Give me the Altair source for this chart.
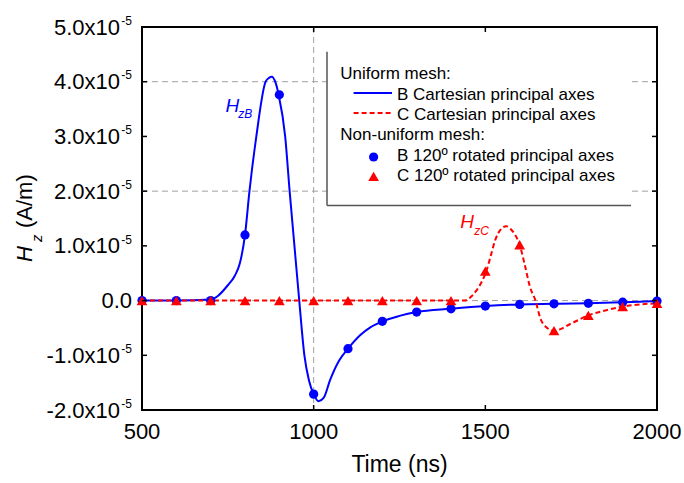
import altair as alt
import pandas as pd

# ---------------- data (H_z values in units of 1e-5 A/m) ----------------
# Uniform mesh, B Cartesian principal axes (solid blue curve)
b_line_t = [500, 600, 700, 720, 750, 770, 785, 800, 813, 833, 860, 870, 878, 888, 898,
            917, 930, 944, 958, 973, 986, 1000, 1014, 1029, 1048, 1073, 1100, 1136, 1165,
            1200, 1250, 1300, 1400, 1500, 1600, 1700, 1800, 1900, 2000]
b_line_v = [0.0, 0.0, 0.02, 0.08, 0.28, 0.45, 0.68, 1.2, 2.0, 3.0, 4.0, 4.07, 4.09, 4.0, 3.76,
            3.0, 2.0, 1.0, 0.0, -1.0, -1.45, -1.71, -1.84, -1.78, -1.45, -1.11, -0.88, -0.63, -0.49,
            -0.38, -0.28, -0.21, -0.15, -0.10, -0.07, -0.06, -0.05, -0.03, -0.01]

# Uniform mesh, C Cartesian principal axes (dashed red curve)
c_line_t = [500, 1000, 1400, 1440, 1460, 1476, 1490, 1503, 1515, 1529, 1545, 1561, 1575, 1587,
            1600, 1615, 1630, 1646, 1660, 1680, 1700, 1750, 1800, 1850, 1900, 2000]
c_line_v = [0.0, 0.0, 0.0, 0.0, 0.08, 0.2, 0.35, 0.54, 0.8, 1.11, 1.3, 1.36, 1.3, 1.2,
            1.02, 0.65, 0.25, 0.0, -0.32, -0.5, -0.55, -0.42, -0.27, -0.18, -0.11, -0.05]

# Non-uniform mesh, 120 deg rotated principal axes (markers)
pt_t = [500, 600, 700, 800, 900, 1000, 1100, 1200, 1300, 1400, 1500, 1600, 1700, 1800, 1900, 2000]
b_pt_v = [0.0, 0.0, 0.0, 1.2, 3.76, -1.71, -0.88, -0.38, -0.21, -0.15, -0.10, -0.07, -0.06, -0.05, -0.03, -0.01]
c_pt_v = [0.0, 0.0, 0.0, 0.0, 0.0, 0.0, 0.0, 0.0, 0.0, 0.0, 0.54, 1.02, -0.55, -0.27, -0.11, -0.05]

# axes
x_ticks = [500, 1000, 1500, 2000]
y_ticks = [5, 4, 3, 2, 1, 0, -1, -2]
y_tick_main = ["5.0x10", "4.0x10", "3.0x10", "2.0x10", "1.0x10", "0.0", "-1.0x10", "-2.0x10"]
y_tick_sup = ["-5", "-5", "-5", "-5", "-5", "", "-5", "-5"]
grid_y = [0, 2, 4]
grid_x = [1000]

# annotations
ann_text_main = ["H", "H"]
ann_text_sub = ["zB", "zC"]
ann_colors = ["#0000FF", "#FF0000"]
ann_t = [743, 1427]
ann_v = [3.45, 1.33]
ann_sub_t = [780, 1468]
ann_sub_v = [3.33, 1.20]

legend_headers = ["Uniform mesh:", "Non-uniform mesh:"]
legend_entries = ["B Cartesian principal axes", "C Cartesian principal axes",
                  "B 120\u00ba rotated principal axes", "C 120\u00ba rotated principal axes"]

# ---------------- chart ----------------
F = "Liberation Sans"
W, H = 515, 383
BLUE, RED = "#0000FF", "#FF0000"
CIRC, TRI = 85, 115
xs = alt.Scale(domain=[500, 2000], nice=False, zero=False)
ys = alt.Scale(domain=[-2, 5], nice=False, zero=False)

one = pd.DataFrame({"a": [0]})
df_b = pd.DataFrame({"t": b_line_t, "v": b_line_v})
df_c = pd.DataFrame({"t": c_line_t, "v": c_line_v})
df_pb = pd.DataFrame({"t": pt_t, "v": b_pt_v})
df_pc = pd.DataFrame({"t": pt_t, "v": c_pt_v})
df_xt = pd.DataFrame({"t": x_ticks, "lab": [str(v) for v in x_ticks]})
df_yt = pd.DataFrame({"v": y_ticks, "main": y_tick_main, "sup": y_tick_sup})
df_gy = pd.DataFrame({"v": grid_y})
df_gx = pd.DataFrame({"t": grid_x})

X = lambda: alt.X("t:Q", scale=xs, axis=None)
Y = lambda: alt.Y("v:Q", scale=ys, axis=None)

layers = []

# dashed reference lines
layers.append(alt.Chart(df_gy).mark_rule(color="#a0a0a0", strokeDash=[6, 4], strokeWidth=1)
              .encode(y=Y(), x=alt.value(0), x2=alt.value(W)))
layers.append(alt.Chart(df_gx).mark_rule(color="#a0a0a0", strokeDash=[6, 4], strokeWidth=1)
              .encode(x=X(), y=alt.value(0), y2=alt.value(H)))

# legend box
LX0, LX1, LY0, LY1 = 185, 489, 24.7, 178.4
layers.append(alt.Chart(one).mark_rect(color="white")
              .encode(x=alt.value(LX0), x2=alt.value(LX1), y=alt.value(LY0), y2=alt.value(LY1)))
layers.append(alt.Chart(one).mark_rule(color="#555555", strokeWidth=1.5)
              .encode(x=alt.value(LX0), y=alt.value(LY0), y2=alt.value(LY1)))
layers.append(alt.Chart(one).mark_rule(color="#555555", strokeWidth=1.5)
              .encode(x=alt.value(LX0), x2=alt.value(LX1), y=alt.value(LY1)))

# curves
layers.append(alt.Chart(df_b).mark_line(color=BLUE, strokeWidth=2, interpolate="monotone")
              .encode(x=X(), y=Y()))
layers.append(alt.Chart(df_c).mark_line(color=RED, strokeWidth=2, strokeDash=[5, 3], interpolate="monotone")
              .encode(x=X(), y=Y()))
layers.append(alt.Chart(df_pb).mark_point(shape="circle", filled=True, color=BLUE, size=CIRC, opacity=1)
              .encode(x=X(), y=Y()))
layers.append(alt.Chart(df_pc).mark_point(shape="triangle-up", filled=True, color=RED, size=TRI, opacity=1)
              .encode(x=X(), y=Y()))

# inward ticks on all four sides
TK = 5
layers.append(alt.Chart(df_xt).mark_rule(color="black", strokeWidth=1.5)
              .encode(x=X(), y=alt.value(H - TK), y2=alt.value(H)))
layers.append(alt.Chart(df_xt).mark_rule(color="black", strokeWidth=1.5)
              .encode(x=X(), y=alt.value(0), y2=alt.value(TK)))
layers.append(alt.Chart(df_yt).mark_rule(color="black", strokeWidth=1.5)
              .encode(y=Y(), x=alt.value(0), x2=alt.value(TK)))
layers.append(alt.Chart(df_yt).mark_rule(color="black", strokeWidth=1.5)
              .encode(y=Y(), x=alt.value(W - TK), x2=alt.value(W)))

# tick labels
layers.append(alt.Chart(df_xt).mark_text(font=F, fontSize=22, align="center", baseline="alphabetic", color="black")
              .encode(x=X(), y=alt.value(H + 29), text="lab:N"))
layers.append(alt.Chart(df_yt).transform_calculate(lx="datum.sup == '' ? -10 : -22")
              .mark_text(font=F, fontSize=22, align="right", baseline="alphabetic", dy=7.5, color="black")
              .encode(y=Y(), x=alt.X("lx:Q", scale=None), text="main:N"))
layers.append(alt.Chart(df_yt).mark_text(font=F, fontSize=12, align="right", baseline="alphabetic", dy=-2.3, color="black")
              .encode(y=Y(), x=alt.value(-10), text="sup:N"))

# axis titles
layers.append(alt.Chart(one).mark_text(font=F, fontSize=23, align="center", baseline="alphabetic", color="black")
              .encode(x=alt.value(W / 2), y=alt.value(H + 62), text=alt.value("Time (ns)")))
layers.append(alt.Chart(one).mark_text(font=F, fontSize=22, fontStyle="italic", align="left", baseline="alphabetic", angle=270, color="black")
              .encode(x=alt.value(-110), y=alt.value(235), text=alt.value("H")))
layers.append(alt.Chart(one).mark_text(font=F, fontSize=15, fontStyle="italic", align="left", baseline="alphabetic", angle=270, color="black")
              .encode(x=alt.value(-100), y=alt.value(215), text=alt.value("z")))
layers.append(alt.Chart(one).mark_text(font=F, fontSize=22, align="left", baseline="alphabetic", angle=270, color="black")
              .encode(x=alt.value(-110), y=alt.value(201), text=alt.value("(A/m)")))

# curve annotations
df_ann = pd.DataFrame({"t": ann_t, "v": ann_v, "txt": ann_text_main, "col": ann_colors})
df_ann_s = pd.DataFrame({"t": ann_sub_t, "v": ann_sub_v, "txt": ann_text_sub, "col": ann_colors})
layers.append(alt.Chart(df_ann).mark_text(font=F, fontSize=19, fontStyle="italic", align="left", baseline="alphabetic")
              .encode(x=X(), y=Y(), text="txt:N", color=alt.Color("col:N", scale=None)))
layers.append(alt.Chart(df_ann_s).mark_text(font=F, fontSize=12, fontStyle="italic", align="left", baseline="alphabetic")
              .encode(x=X(), y=Y(), text="txt:N", color=alt.Color("col:N", scale=None)))

# legend contents
LF = 17
hdr_y = [52, 113.4]
ent_y = [72.7, 92.7, 134.4, 154.4]
df_lh = pd.DataFrame({"txt": legend_headers, "py": hdr_y})
df_le = pd.DataFrame({"txt": legend_entries, "py": ent_y})
layers.append(alt.Chart(df_lh).mark_text(font=F, fontSize=LF, align="left", baseline="alphabetic", color="black")
              .encode(x=alt.value(198.3), y=alt.Y("py:Q", scale=None), text="txt:N"))
layers.append(alt.Chart(df_le).mark_text(font=F, fontSize=LF, align="left", baseline="alphabetic", color="black")
              .encode(x=alt.value(255), y=alt.Y("py:Q", scale=None), text="txt:N"))
layers.append(alt.Chart(one).mark_rule(color=BLUE, strokeWidth=2)
              .encode(x=alt.value(211.6), x2=alt.value(250), y=alt.value(66)))
layers.append(alt.Chart(one).mark_rule(color=RED, strokeWidth=2, strokeDash=[5, 3])
              .encode(x=alt.value(211.6), x2=alt.value(250), y=alt.value(86)))
layers.append(alt.Chart(one).mark_point(shape="circle", filled=True, color=BLUE, size=CIRC, opacity=1)
              .encode(x=alt.value(231.6), y=alt.value(130)))
layers.append(alt.Chart(one).mark_point(shape="triangle-up", filled=True, color=RED, size=TRI, opacity=1)
              .encode(x=alt.value(231.6), y=alt.value(149.4)))

chart = (alt.layer(*layers)
         .properties(width=W, height=H,
                     padding={"left": 142, "top": 27, "right": 27, "bottom": 73},
                     autosize=alt.AutoSizeParams(type="none"),
                     background="white")
         .configure_view(stroke="black", strokeWidth=2))

chart.save("out.html", embed_options={"renderer": "svg", "actions": False})
